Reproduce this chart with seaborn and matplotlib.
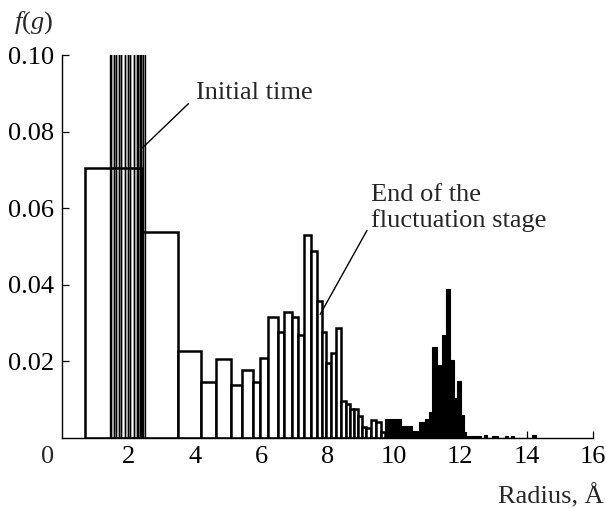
import numpy as np
import matplotlib
matplotlib.use("Agg")
import matplotlib.pyplot as plt
import seaborn as sns

# ---- data ----
# Initial time: narrow bars near r ~ 2 A (all exceed the 0.10 axis limit)
init_edges = [1.44, 1.49, 1.56, 1.64, 1.71, 1.79, 1.89, 1.99, 2.06, 2.16,
              2.25, 2.30, 2.34, 2.38, 2.44, 2.49]
init_heights = [0.14, 0.21, 0.26, 0.30, 0.33, 0.35, 0.36, 0.34, 0.31, 0.27,
                0.22, 0.18, 0.15, 0.12, 0.11]

# End of the fluctuation stage: open bars
fluct_edges = [0.69, 2.40, 3.51, 4.20, 4.65, 5.08, 5.41, 5.77, 5.98, 6.22,
               6.52, 6.70, 6.94, 7.12, 7.30, 7.51, 7.69, 7.84, 7.96, 8.11,
               8.26, 8.41, 8.56, 8.68, 8.80, 8.92, 9.04, 9.16, 9.31, 9.46,
               9.61, 9.73]
fluct_heights = [0.0706, 0.0537, 0.0227, 0.0146, 0.0206, 0.0138, 0.0177,
                 0.0146, 0.0208, 0.0315, 0.0276, 0.0328, 0.0315, 0.0268,
                 0.0529, 0.0487, 0.0357, 0.0276, 0.0195, 0.0221, 0.0287,
                 0.0097, 0.0089, 0.0077, 0.0077, 0.0058, 0.0029, 0.0026,
                 0.0047, 0.0042, 0.0016]

# Later stage: filled bars
late_edges = [9.73, 10.21, 10.54, 10.75, 10.93, 11.05, 11.14, 11.29, 11.44,
              11.56, 11.68, 11.80, 11.89, 12.01, 12.10, 12.16, 12.64, 12.73,
              12.82, 12.97, 13.15, 13.36, 13.45, 13.54, 13.63, 14.15, 14.27]
late_heights = [0.0049, 0.0031, 0.0018, 0.0042, 0.0049, 0.0068, 0.0237,
                0.0190, 0.0268, 0.0390, 0.0203, 0.0104, 0.0149, 0.0060,
                0.0016, 0.0005, 0.0, 0.0007, 0.0, 0.0005, 0.0, 0.0006, 0.0,
                0.0006, 0.0, 0.0007]

x_ticks = [2, 4, 6, 8, 10, 12, 14, 16]
y_ticks = [0.02, 0.04, 0.06, 0.08, 0.10]
y_tick_labels = ["0.02", "0.04", "0.06", "0.08", "0.10"]

# ---- style ----
sns.set_style("ticks")
plt.rcParams["font.family"] = ["Liberation Serif", "DejaVu Serif"]
plt.rcParams["mathtext.fontset"] = "custom"
plt.rcParams["mathtext.rm"] = "Liberation Serif"
plt.rcParams["mathtext.it"] = "Liberation Serif:italic"

FS = 19
fig = plt.figure(figsize=(6.06, 5.08), dpi=100)
ax = fig.add_axes([62 / 606, 1 - 438 / 508, (593 - 62) / 606, (438 - 55) / 508])


def mids(edges):
    e = np.asarray(edges)
    return (e[:-1] + e[1:]) / 2


sns.histplot(x=mids(fluct_edges), weights=fluct_heights, bins=fluct_edges,
             fill=True, color="white", edgecolor="black", linewidth=1.8,
             alpha=1, ax=ax, zorder=2)
sns.histplot(x=mids(init_edges), weights=init_heights, bins=init_edges,
             fill=False, color="black", linewidth=1.0, ax=ax, zorder=3)
sns.histplot(x=mids(late_edges), weights=late_heights, bins=late_edges,
             fill=True, color="black", edgecolor="black", linewidth=0.8,
             alpha=1, ax=ax, zorder=3)

ax.set_xlim(0, 16)
ax.set_ylim(0, 0.10)
ax.set_xticks(x_ticks)
ax.set_xticklabels([str(t) for t in x_ticks])
ax.set_yticks(y_ticks)
ax.set_yticklabels(y_tick_labels)
ax.set_xlabel("")
ax.set_ylabel("")
ax.tick_params(axis="both", direction="in", length=5, width=0.9,
               labelsize=FS, color="black", labelcolor="black")
ax.tick_params(axis="x", pad=6.0)
ax.tick_params(axis="y", pad=5.5)
for s in ["top", "right"]:
    ax.spines[s].set_visible(False)
for s in ["left", "bottom"]:
    ax.spines[s].set_linewidth(1.0)
    ax.spines[s].set_color("black")
    ax.spines[s].set_zorder(5)

# "0" at the origin corner
ax.text(-0.42, -0.0022, "0", ha="center", va="top", fontsize=FS)

# annotations
ax.annotate("", xy=(2.43, 0.0758), xytext=(3.81, 0.0873),
            arrowprops=dict(arrowstyle="-", lw=1.0, color="black",
                            shrinkA=0, shrinkB=0), zorder=6)
ax.text(4.05, 0.0886, "Initial time", fontsize=FS, ha="left", va="baseline")

ax.annotate("", xy=(7.78, 0.0323), xytext=(9.19, 0.0542),
            arrowprops=dict(arrowstyle="-", lw=1.0, color="black",
                            shrinkA=0, shrinkB=0), zorder=6)
ax.text(9.31, 0.0618, "End of the", fontsize=FS, ha="left", va="baseline")
ax.text(9.31, 0.0550, "fluctuation stage", fontsize=FS, ha="left",
        va="baseline")

fig.text(604 / 606, 1 - 503 / 508, "Radius, Å", fontsize=FS, ha="right",
         va="baseline")
fig.text(14 / 606, 1 - 29 / 508, r"$f(g)$", fontsize=FS, ha="left",
         va="baseline")

fig.savefig("out.png", dpi=100, facecolor="white")
